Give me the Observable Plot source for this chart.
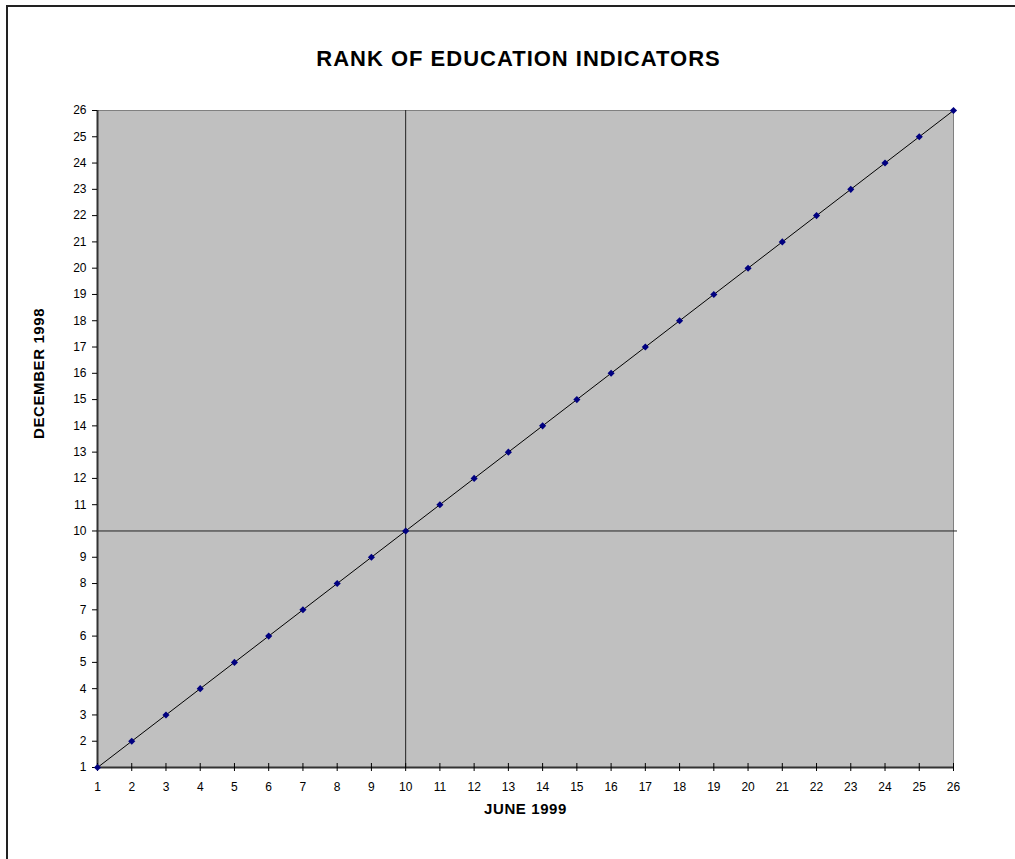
<!DOCTYPE html>
<html>
<head>
<meta charset="utf-8">
<script src="https://cdn.jsdelivr.net/npm/d3@7"></script>
<script src="https://cdn.jsdelivr.net/npm/@observablehq/plot@0.6"></script>
<style>
  html, body { margin: 0; padding: 0; background: #fff; }
  #wrap { position: relative; width: 1015px; height: 859px; overflow: hidden; }
  #border { position: absolute; left: 6px; top: 5px; width: 1015px; height: 900px;
            border-top: 2px solid #222; border-left: 2px solid #222; }
  #chart { position: absolute; left: 0; top: 0; }
</style>
</head>
<body>
<div id="wrap"><div id="border"></div><div id="chart"></div></div>
<script>
// Data
const title = "RANK OF EDUCATION INDICATORS";
const xLabel = "JUNE 1999";
const yLabel = "DECEMBER 1998";
const june1999 = [1,2,3,4,5,6,7,8,9,10,11,12,13,14,15,16,17,18,19,20,21,22,23,24,25,26];
const december1998 = [1,2,3,4,5,6,7,8,9,10,11,12,13,14,15,16,17,18,19,20,21,22,23,24,25,26];
const xTicks = [1,2,3,4,5,6,7,8,9,10,11,12,13,14,15,16,17,18,19,20,21,22,23,24,25,26];
const yTicks = [1,2,3,4,5,6,7,8,9,10,11,12,13,14,15,16,17,18,19,20,21,22,23,24,25,26];
const refX = [10];
const refY = [10];
const trend = [{x: 1, y: 1}, {x: 26, y: 26}];

const points = june1999.map((x, i) => ({x, y: december1998[i]}));
const font = "'Liberation Sans', Arial, sans-serif";

const chart = Plot.plot({
  width: 1015,
  height: 859,
  marginTop: 110,
  marginBottom: 92,
  marginLeft: 97,
  marginRight: 62,
  style: {fontFamily: font, fontSize: "12px", color: "#000", background: "transparent"},
  x: {domain: [1, 26], axis: null},
  y: {domain: [1, 26], axis: null},
  marks: [
    Plot.frame({fill: "#c0c0c0", stroke: "#808080"}),
    Plot.ruleX(refX, {stroke: "#222", strokeWidth: 1}),
    Plot.ruleY(refY, {stroke: "#222", strokeWidth: 1, insetRight: -4}),
    Plot.line(trend, {x: "x", y: "y", stroke: "#000", strokeWidth: 1}),
    Plot.ruleY([1], {stroke: "#333", strokeWidth: 2}),
    Plot.ruleX([1], {stroke: "#333", strokeWidth: 2}),
    // x axis: crossing ticks, then labels
    Plot.axisX({ticks: xTicks, tickSize: 8, dy: -4, tickFormat: () => "", label: null, stroke: "#000"}),
    Plot.axisX({ticks: xTicks, tickSize: 0, tickPadding: 15, tickFormat: d => String(d), label: null, fontSize: 12, fill: "#000"}),
    // y axis
    Plot.axisY({ticks: yTicks, tickSize: 5, tickPadding: 6, tickFormat: d => String(d), label: null, fontSize: 12, fill: "#000", stroke: "#000"}),
    Plot.dot(points, {x: "x", y: "y", symbol: "diamond2", r: 3.2, fill: "#000080", stroke: "none"}),
    Plot.text([title], {frameAnchor: "top", dy: -60, dx: -7, fontSize: 22, fontWeight: "bold", fill: "#000", style: "letter-spacing:1px"}),
    Plot.text([xLabel], {frameAnchor: "bottom", dy: 46, fontSize: 15, fontWeight: "bold", fill: "#000"}),
    Plot.text([yLabel], {frameAnchor: "left", dx: -58, rotate: -90, fontSize: 15, fontWeight: "bold", fill: "#000"})
  ]
});
// slight letter spacing to match the reference's wider text
chart.querySelectorAll("text").forEach(t => {
  const s = t.textContent;
  if (s === title) t.setAttribute("letter-spacing", "1px");
  else if (s === xLabel || s === yLabel) t.setAttribute("letter-spacing", "0.6px");
});
document.getElementById("chart").appendChild(chart);
</script>
</body>
</html>
